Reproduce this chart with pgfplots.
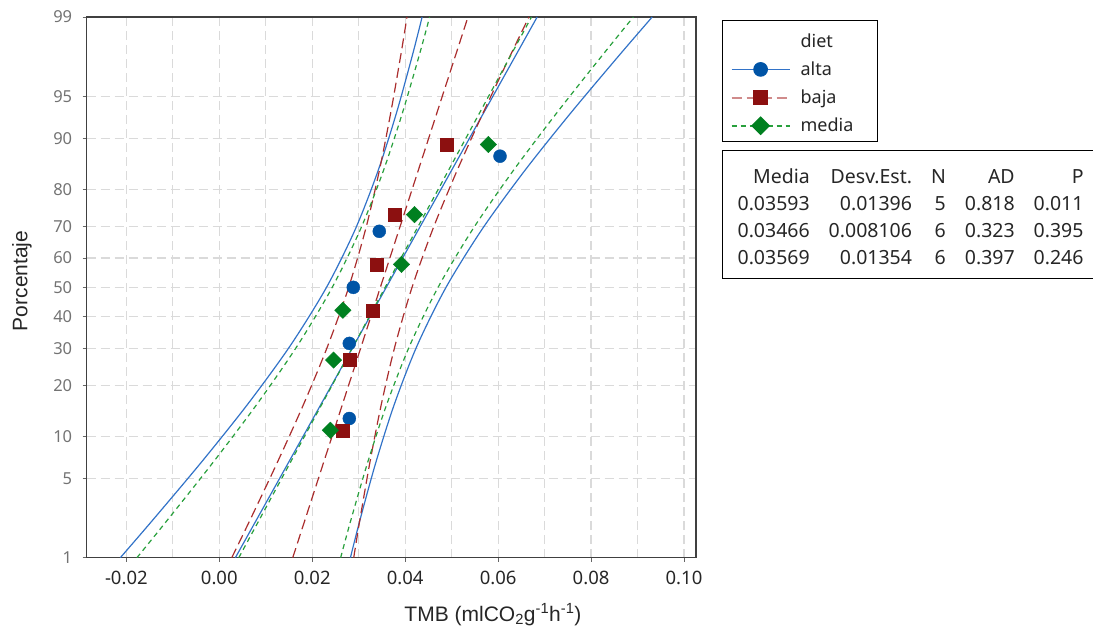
\documentclass[border=0pt]{standalone}
\usepackage{fontspec}
\setmainfont{Noto Sans}
\newfontfamily\arialf{Liberation Sans}
\usepackage{pgfplots}
\pgfplotsset{compat=1.18}

\definecolor{altaM}{RGB}{0,84,166}
\definecolor{altaL}{RGB}{50,115,200}
\definecolor{bajaM}{RGB}{140,16,16}
\definecolor{bajaL}{RGB}{170,45,45}
\definecolor{mediaM}{RGB}{0,128,32}
\definecolor{mediaL}{RGB}{40,160,60}
\definecolor{gridc}{RGB}{218,218,218}

\pgfplotsset{
  altaline/.style={draw=altaL, line width=1.2pt, solid},
  bajaline/.style={draw=bajaL, line width=1.2pt, dash pattern=on 10pt off 5pt},
  medialine/.style={draw=mediaL, line width=1.2pt, dash pattern=on 5pt off 4pt},
  altamark/.style={only marks, mark=*, mark size=6.5pt, mark options={solid, fill=altaM, draw=altaM}},
  bajamark/.style={only marks, mark=square*, mark size=6.5pt, mark options={solid, fill=bajaM, draw=bajaM}},
  mediamark/.style={only marks, mark=square*, mark size=5.8pt, mark options={solid, rotate=45, fill=mediaM, draw=mediaM}},
}

\begin{document}
\begin{tikzpicture}[x=1pt,y=1pt]
\path[use as bounding box] (-86.7,-79) rectangle (1006.3,557.7);
\begin{axis}[
  at={(0,0)}, anchor=south west,
  scale only axis, width=609.3pt, height=540.7pt,
  xmin=-0.02853, xmax=0.10258,
  ymin=-2.3263, ymax=2.3263,
  xtick={-0.02,0,0.02,0.04,0.06,0.08,0.10},
  xticklabels={-0.02,0.00,0.02,0.04,0.06,0.08,0.10},
  minor xtick={-0.01,0.01,0.03,0.05,0.07,0.09},
  ytick={-2.3263,-1.6449,-1.2816,-0.8416,-0.5244,-0.2533,0,0.2533,0.5244,0.8416,1.2816,1.6449,2.3263},
  yticklabels={1,5,10,20,30,40,50,60,70,80,90,95,99},
  scaled x ticks=false,
  tick pos=left, tick align=outside,
  major tick length=4pt, minor tick length=0pt,
  tick style={black!60, line width=0.8pt},
  grid=both,
  major grid style={gridc, line width=1.2pt, dash pattern=on 9pt off 5pt},
  minor grid style={gridc, line width=1.2pt, dash pattern=on 9pt off 5pt},
  axis line style={black!75, line width=1.5pt},
  xticklabel style={font=\fontsize{18.5}{20}\selectfont, text=black!85, yshift=-6pt},
  yticklabel style={font=\fontsize{16.5}{18}\selectfont, text=black!55, xshift=-7pt},
  xlabel={\arialf TMB (mlCO\textsubscript{2}g\textsuperscript{-1}h\textsuperscript{-1})},
  ylabel={\arialf Porcentaje},
  every axis x label/.style={at={(axis description cs:0.6668,-0.1054)}, anchor=center, font=\fontsize{21}{24}\selectfont, text=black!85},
  every axis y label/.style={at={(axis description cs:-0.1062,0.512)}, rotate=90, anchor=center, font=\fontsize{21}{24}\selectfont, text=black!85},
  legend style={at={(axis description cs:1.0427,0.995)}, anchor=north west,
    draw=black, line width=1.2pt, font=\fontsize{18}{21}\selectfont, text=black!85,
    inner xsep=8pt, inner ysep=6pt, row sep=9pt, column sep=8pt},
  legend cell align=left,
  legend image code/.code={\draw[mark repeat=2,mark phase=2,#1] plot coordinates {(0pt,0pt) (29pt,0pt) (58pt,0pt)};},
]
\addlegendimage{empty legend}\addlegendentry{\rule{0pt}{19pt}diet}
\addlegendimage{altaline, line width=1.7pt, mark=*, mark size=6.5pt, mark options={solid, fill=altaM, draw=altaM}}\addlegendentry{alta}
\addlegendimage{bajaline, line width=2pt, draw=bajaL!55, mark=square*, mark size=6.5pt, mark options={solid, fill=bajaM, draw=bajaM}}\addlegendentry{baja}
\addlegendimage{medialine, line width=1.7pt, mark=square*, mark size=5.8pt, mark options={solid, rotate=45, fill=mediaM, draw=mediaM}}\addlegendentry{media\hspace*{14pt}}

% alta: fit and 95% CI
\addplot[altaline, forget plot] coordinates {(0.003459,-2.3263) (0.068401,2.3263)};
\addplot[altaline, smooth, forget plot] coordinates {(-0.021296,-2.3263) (-0.014266,-2) (-0.003758,-1.5) (0.006218,-1) (0.015309,-0.5) (0.023069,0) (0.029269,0.5) (0.034138,1) (0.038122,1.5) (0.041574,2) (0.043646,2.3263)};
\addplot[altaline, smooth, forget plot] coordinates {(0.028214,-2.3263) (0.030286,-2) (0.033738,-1.5) (0.037722,-1) (0.042591,-0.5) (0.048791,0) (0.056551,0.5) (0.065642,1) (0.075618,1.5) (0.086126,2) (0.093156,2.3263)};

% baja
\addplot[bajaline, forget plot] coordinates {(0.015805,-2.3263) (0.053515,2.3263)};
\addplot[bajaline, smooth, forget plot] coordinates {(0.002683,-2.3263) (0.006641,-2) (0.012564,-1.5) (0.018205,-1) (0.023377,-0.5) (0.027843,0) (0.031483,0.5) (0.034417,1) (0.036882,1.5) (0.039065,2) (0.040393,2.3263)};
\addplot[bajaline, smooth, forget plot] coordinates {(0.028927,-2.3263) (0.030255,-2) (0.032438,-1.5) (0.034903,-1) (0.037837,-0.5) (0.041477,0) (0.045943,0.5) (0.051115,1) (0.056756,1.5) (0.062679,2) (0.066637,2.3263)};

% media
\addplot[medialine, forget plot] coordinates {(0.004196,-2.3263) (0.067184,2.3263)};
\addplot[medialine, smooth, forget plot] coordinates {(-0.017722,-2.3263) (-0.011113,-2) (-0.001219,-1.5) (0.008204,-1) (0.016842,-0.5) (0.024303,0) (0.030382,0.5) (0.035284,1) (0.039401,1.5) (0.043047,2) (0.045266,2.3263)};
\addplot[medialine, smooth, forget plot] coordinates {(0.026114,-2.3263) (0.028333,-2) (0.031979,-1.5) (0.036096,-1) (0.040998,-0.5) (0.047077,0) (0.054538,0.5) (0.063176,1) (0.072599,1.5) (0.082493,2) (0.089102,2.3263)};

% data points (x, normal quantile of plotting position)
\addplot[altamark, forget plot] coordinates {(0.02798,-1.1286) (0.02798,-0.4823) (0.02884,0) (0.03443,0.4823) (0.06041,1.1286)};
\addplot[bajamark, forget plot] coordinates {(0.0265,-1.2298) (0.0280,-0.6260) (0.0330,-0.1971) (0.0339,0.1971) (0.0377,0.6260) (0.0489,1.2298)};
\addplot[mediamark, forget plot] coordinates {(0.0239,-1.2298) (0.0246,-0.6260) (0.0266,-0.1971) (0.0392,0.1971) (0.0420,0.6260) (0.0579,1.2298)};
\end{axis}
\node[draw=black, line width=1.2pt, anchor=north west, inner xsep=15pt, inner ysep=0pt,
  font=\fontsize{19.5}{27}\selectfont, text=black!85] at (635.3,408) {%
  \setlength\tabcolsep{9.5pt}%
  \begin{tabular}{@{}rrrrr@{}}
  \rule{0pt}{33pt}Media & Desv.Est. & N & AD & P\\
  0.03593 & 0.01396 & 5 & 0.818 & 0.011\\
  0.03466 & 0.008106 & 6 & 0.323 & 0.395\\
  0.03569 & 0.01354 & 6 & 0.397 & 0.246\rule[-14pt]{0pt}{14pt}
  \end{tabular}};
\end{tikzpicture}
\end{document}
